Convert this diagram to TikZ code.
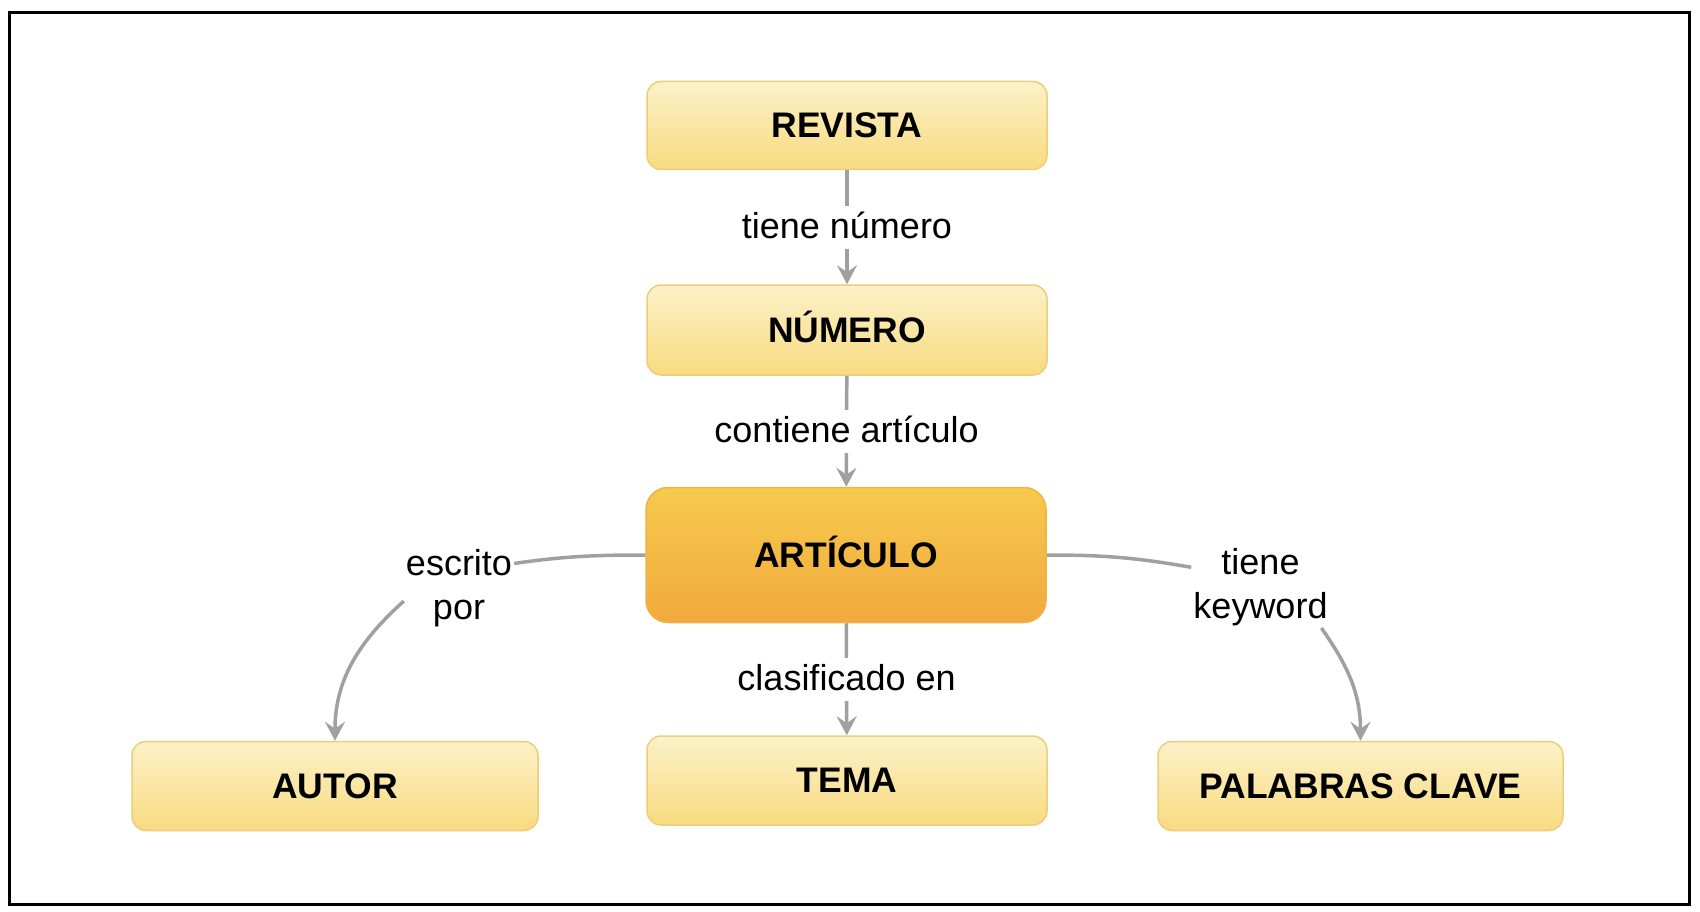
\documentclass[tikz,border=0pt]{standalone}
\usepackage{fontspec}
\setmainfont{Liberation Sans}
\usetikzlibrary{arrows.meta,calc}
\definecolor{edgegray}{RGB}{160,160,160}
\definecolor{ylTop}{RGB}{252,241,200}
\definecolor{ylBot}{RGB}{248,219,128}
\definecolor{ylLine}{RGB}{236,206,120}
\definecolor{orTop}{RGB}{246,202,78}
\definecolor{orBot}{RGB}{241,169,60}
\definecolor{orLine}{RGB}{238,180,70}
\begin{document}
\begin{tikzpicture}[x=1pt,y=1pt,
  concept/.style={rectangle, rounded corners=14pt, draw=ylLine, line width=1.5pt,
    top color=ylTop, bottom color=ylBot, minimum width=400pt, minimum height=88pt,
    font=\fontsize{35.5}{42}\selectfont\bfseries, inner sep=0pt,
    text height=24pt, text depth=0pt},
  central/.style={concept, rounded corners=22pt, draw=orLine, top color=orTop,
    bottom color=orBot, minimum height=135pt},
  rel/.style={draw=edgegray, line width=3.5pt},
  relarrow/.style={rel, -{Stealth[length=19pt,width=20pt,inset=7pt]}},
  lbl/.style={fill=white, font=\fontsize{36}{44}\selectfont, text height=25pt,
    text depth=2pt, inner xsep=4pt, inner ysep=8pt},
  mlbl/.style={fill=white, font=\fontsize{36}{44}\selectfont, align=center, inner sep=2pt},
]
\useasboundingbox (0,0) rectangle (1700,-912);
\draw[line width=3pt] (9.5,-12.5) rectangle (1689.5,-904.5);

\node[concept] (rev) at (847,-125.5) {REVISTA};
\node[concept, minimum height=90pt] (num) at (847,-330) {NÚMERO};
\node[central] (art) at (846,-555) {ARTÍCULO};
\node[concept, minimum width=406pt, minimum height=89pt] (aut) at (335,-786) {AUTOR};
\node[concept, minimum height=89pt] (tem) at (847,-780.5) {TEMA};
\node[concept, minimum width=405pt, minimum height=89pt] (pal) at (1360.5,-786) {PALABRAS CLAVE};

\node[mlbl] (lblL) at (459,-588) {escrito\\por};
\node[mlbl] (lblR) at (1260.5,-587) {tiene\\keyword};

\draw[relarrow] (rev) -- node[lbl] {tiene número} (num);
\draw[relarrow] (num) -- node[lbl] {contiene artículo} (art);
\draw[relarrow] (art) -- node[lbl] {clasificado en} (tem);

\draw[rel] (art.west) to[out=180,in=8] ($(lblL.north east)!0.2!(lblL.south east)$);
\draw[relarrow] ($(lblL.north west)!0.66!(lblL.south west)$) to[out=222,in=90] (aut.north);
\draw[rel] (art.east) to[out=0,in=170] ($(lblR.north west)!0.26!(lblR.south west)$);
\draw[relarrow] ($(lblR.south west)!0.94!(lblR.south east)$) to[out=-55,in=90] (pal.north);
\end{tikzpicture}
\end{document}
